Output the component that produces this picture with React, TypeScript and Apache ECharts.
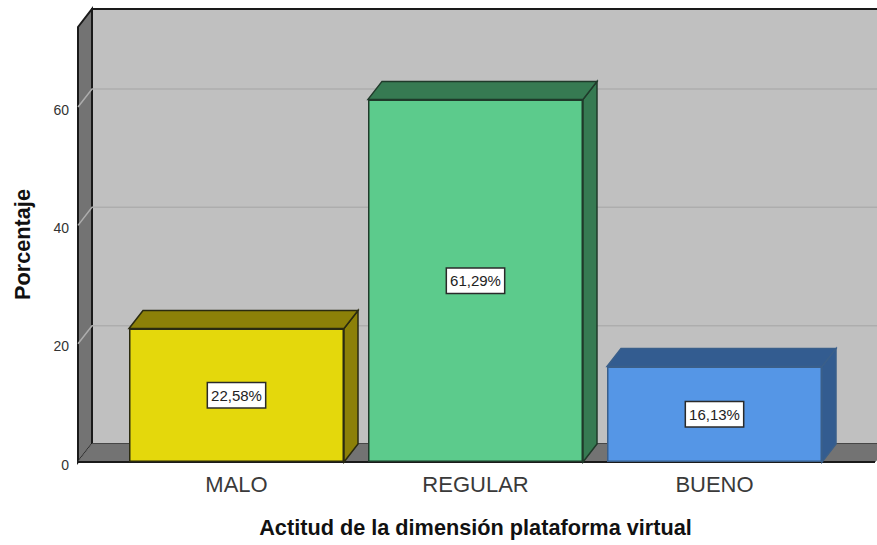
import React, { useEffect, useRef } from "react";
import * as echarts from "echarts";

const categories = ["MALO", "REGULAR", "BUENO"];
const percentages = [22.58, 61.29, 16.13];
const frontColors = ["#e4d80c", "#5ccb8c", "#5596e6"];
const sideColors = ["#8c8008", "#367a52", "#335c90"];
const edgeColors = ["#2a2a10", "#1f3a2a", "#3a5f8a"];
const gridTicks = [20, 40, 60];
const yMax = 73.53;

const DEPTH_X = 14;
const DEPTH_Y = 18;
const BAR_WIDTH = 215;

function renderWalls(params: any, api: any) {
  const cs = params.coordSys;
  const frontLeft = cs.x - 39;
  const frontRight = cs.x + cs.width + 41;
  const backLeft = frontLeft + DEPTH_X;
  const backRight = frontRight + DEPTH_X;
  const y0 = api.coord([0, 0])[1];
  const yTop = api.coord([0, yMax])[1];
  const wallStroke = { stroke: "#1a1a1a", lineWidth: 2 };
  const children: any[] = [
    {
      type: "polygon",
      shape: { points: [[backLeft, yTop - DEPTH_Y], [backRight, yTop - DEPTH_Y], [backRight, y0 - DEPTH_Y], [backLeft, y0 - DEPTH_Y]] },
      style: { fill: "#c0c0c0", ...wallStroke },
    },
    {
      type: "polygon",
      shape: { points: [[frontLeft, yTop], [backLeft, yTop - DEPTH_Y], [backLeft, y0 - DEPTH_Y], [frontLeft, y0]] },
      style: { fill: "#737373", ...wallStroke },
    },
    {
      type: "polygon",
      shape: { points: [[frontLeft, y0], [backLeft, y0 - DEPTH_Y], [backRight, y0 - DEPTH_Y], [frontRight, y0]] },
      style: { fill: "#737373", stroke: "#737373", lineWidth: 1 },
    },
    {
      type: "line",
      shape: { x1: frontLeft, y1: y0, x2: frontRight, y2: y0 },
      style: { stroke: "#1a1a1a", lineWidth: 2 },
    },
  ];
  gridTicks.forEach((t) => {
    const y = api.coord([0, t])[1];
    children.push({
      type: "polyline",
      shape: { points: [[frontLeft, y], [backLeft, y - DEPTH_Y], [backRight, y - DEPTH_Y]] },
      style: { fill: "none", stroke: "#adadad", lineWidth: 1.5 },
    });
  });
  return { type: "group", children };
}

function renderBarDepth(params: any, api: any) {
  const i = params.dataIndex;
  const center = api.coord([api.value(0), api.value(1)]);
  const base = api.coord([api.value(0), 0]);
  const l = center[0] - BAR_WIDTH / 2;
  const r = center[0] + BAR_WIDTH / 2;
  const t = center[1];
  const b = base[1];
  const style = { fill: sideColors[i], stroke: edgeColors[i], lineWidth: 1.5 };
  return {
    type: "group",
    children: [
      {
        type: "polygon",
        shape: { points: [[r, t], [r + DEPTH_X, t - DEPTH_Y], [r + DEPTH_X, b - DEPTH_Y], [r, b]] },
        style,
      },
      {
        type: "polygon",
        shape: { points: [[l, t], [l + DEPTH_X, t - DEPTH_Y], [r + DEPTH_X, t - DEPTH_Y], [r, t]] },
        style,
      },
    ],
  };
}

export default function App() {
  const ref = useRef<HTMLDivElement>(null);
  useEffect(() => {
    document.body.style.margin = "0";
    const chart = echarts.init(ref.current!, null, { renderer: "svg" });
    const points = categories.map((_, i) => [i, percentages[i]]);
    chart.setOption({
      animation: false,
      backgroundColor: "#ffffff",
      textStyle: { fontFamily: "Liberation Sans" },
      grid: { left: 117, top: 27, width: 717, height: 435, outerBoundsMode: "none" },
      xAxis: {
        type: "category",
        data: categories,
        axisLine: { show: false },
        axisTick: { show: false },
        axisLabel: { fontSize: 22, color: "#3a3a3a", margin: 11, fontFamily: "Liberation Sans" },
        name: "Actitud de la dimensión plataforma virtual",
        nameLocation: "middle",
        nameGap: 54,
        nameTextStyle: { fontSize: 21.7, fontWeight: "bold", color: "#111", fontFamily: "Liberation Sans" },
      },
      yAxis: {
        type: "value",
        min: 0,
        max: yMax,
        interval: 20,
        splitLine: { show: false },
        axisLine: { show: false },
        axisTick: { show: false },
        axisLabel: {
          fontSize: 14,
          color: "#333",
          margin: 48,
          showMaxLabel: false,
          verticalAlign: "top",
          lineHeight: 5,
          fontFamily: "Liberation Sans",
        },
        name: "Porcentaje",
        nameLocation: "middle",
        nameGap: 84,
        nameTextStyle: { fontSize: 21.7, fontWeight: "bold", color: "#111", fontFamily: "Liberation Sans" },
      },
      series: [
        {
          type: "custom",
          data: [[0, 0]],
          encode: { x: 0, y: 1 },
          renderItem: renderWalls,
          z: 1,
          silent: true,
        },
        {
          type: "custom",
          data: points,
          encode: { x: 0, y: 1 },
          renderItem: renderBarDepth,
          z: 2,
          silent: true,
        },
        {
          type: "bar",
          z: 3,
          barWidth: BAR_WIDTH,
          data: percentages.map((v, i) => ({
            value: v,
            itemStyle: { color: frontColors[i], borderColor: edgeColors[i], borderWidth: 1.5 },
          })),
          label: {
            show: true,
            position: "inside",
            formatter: (p: any) => p.value.toFixed(2).replace(".", ",") + "%",
            fontSize: 15,
            color: "#222",
            fontFamily: "Liberation Sans",
            backgroundColor: "#ffffff",
            borderColor: "#2a2a2a",
            borderWidth: 1.5,
            padding: [5, 3, 4, 3],
          },
        },
      ],
    });
    return () => chart.dispose();
  }, []);
  return <div ref={ref} style={{ width: 877, height: 545 }} />;
}
